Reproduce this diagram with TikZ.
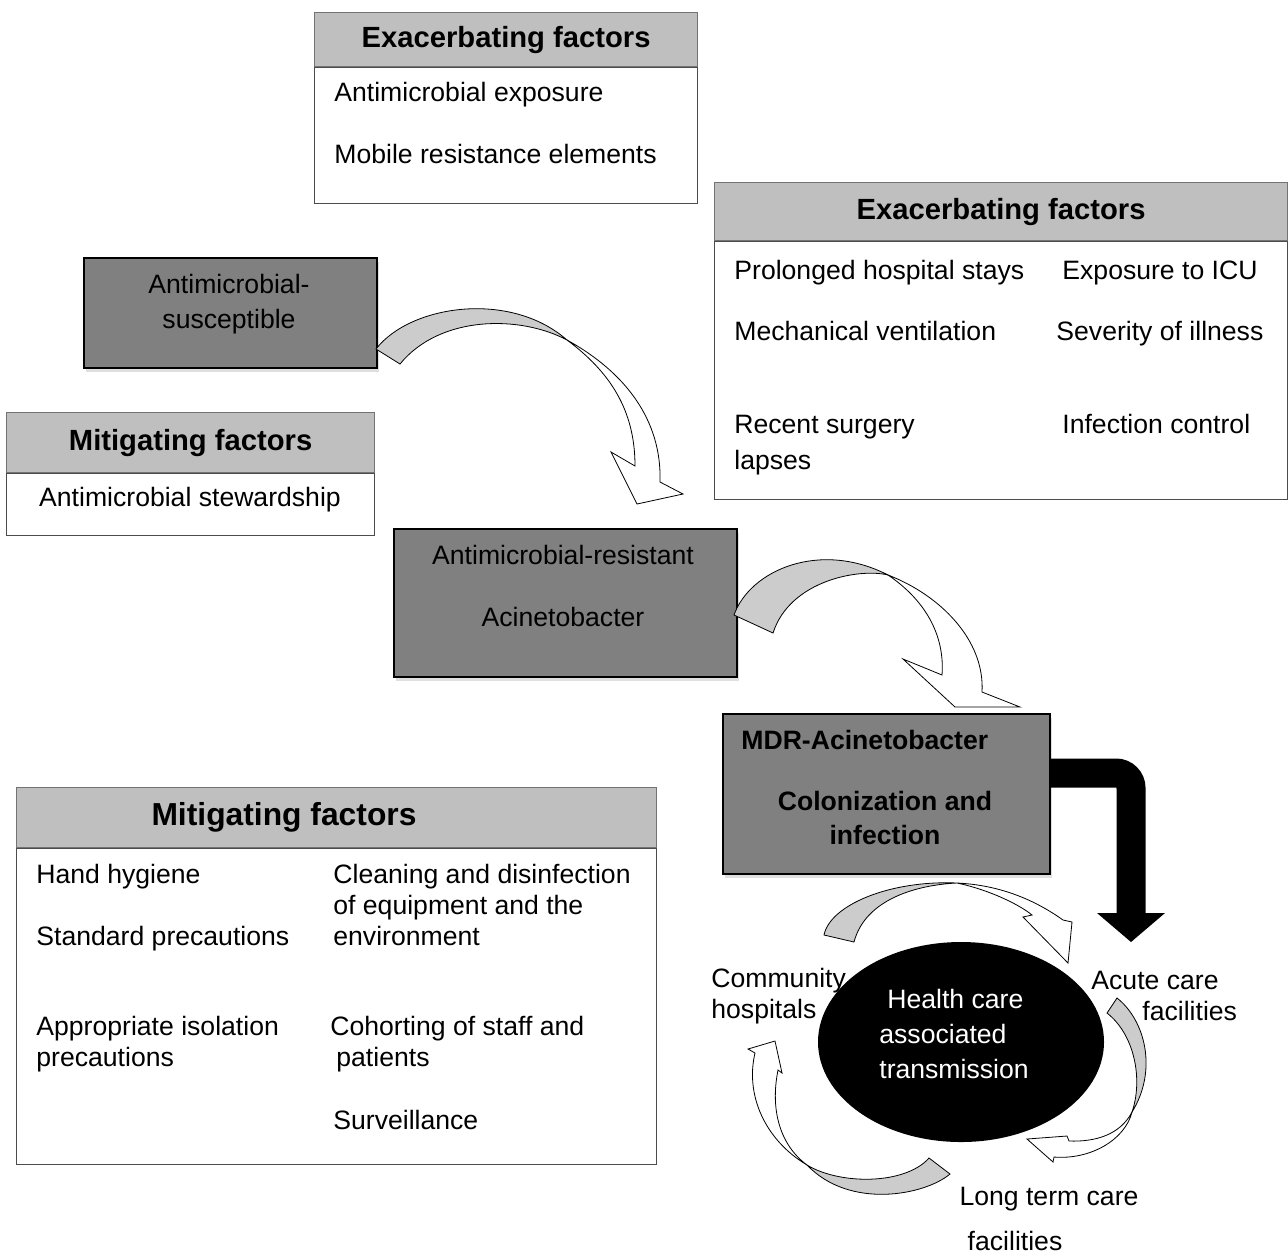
\documentclass[tikz,border=0pt]{standalone}
\usepackage{fontspec}
\setmainfont{Liberation Sans}
\usetikzlibrary{arrows.meta, positioning, shapes.geometric, shadows}

\definecolor{hdrgray}{RGB}{191,191,191}
\definecolor{darkbox}{RGB}{128,128,128}
\definecolor{bandgray}{RGB}{204,204,204}

\begin{document}
\begin{tikzpicture}[
  x=0.5pt, y=-0.5pt,
  every node/.style={font=\fontsize{13.3}{15.5}\selectfont, inner sep=0pt},
  hdrbox/.style={draw=black!55, fill=hdrgray, line width=0.6pt, anchor=north west,
    font=\fontsize{14.6}{17}\selectfont\bfseries},
  bodybox/.style={draw=black!70, fill=white, line width=0.6pt, anchor=north west},
  stagebox/.style={draw=black, fill=darkbox, line width=1pt, anchor=north west,
    drop shadow={shadow xshift=1pt, shadow yshift=-2pt, opacity=0.25}},
  oneline/.style={text height=12pt, text depth=2.3pt},
  item/.style={anchor=west, oneline},
  items/.style={anchor=west, align=left},
  band/.style={draw=black, line width=0.4pt, fill=bandgray},
  bandhead/.style={draw=black, line width=0.4pt, fill=white},
  bigarrow/.style={line width=14.5pt, rounded corners=7.5pt,
    -{Triangle[width=34pt, length=14.5pt, line width=0pt]}}
]
\useasboundingbox (0,0) rectangle (1288,1254);

% Exacerbating factors, top
\node[hdrbox, minimum width=191.5pt, minimum height=27pt] (exaTopH) at (314,12) {Exacerbating factors};
\node[bodybox, minimum width=191.5pt, minimum height=68pt] (exaTopB) at (exaTopH.south west) {};
\node[item] (antExp) at (334,92) {Antimicrobial exposure};
\node[item] (mobRes) at (334,154) {Mobile resistance elements};

% Exacerbating factors, right
\node[hdrbox, minimum width=286.5pt, minimum height=29pt] (exaRgtH) at (714,182) {Exacerbating factors};
\node[bodybox, minimum width=286.5pt, minimum height=129pt] (exaRgtB) at (exaRgtH.south west) {};
\node[item] (hospStay) at (734,270) {Prolonged hospital stays};
\node[item] (icu) at (1062,270) {Exposure to ICU};
\node[item] (mechVent) at (734,331) {Mechanical ventilation};
\node[item] (severity) at (1056,331) {Severity of illness};
\node[item] (surgery) at (734,424) {Recent surgery};
\node[item] (lapses) at (734,460) {lapses};
\node[item] (infCtrl) at (1062,424) {Infection control};

% Mitigating factors, small
\node[hdrbox, minimum width=184pt, minimum height=30pt] (mitSmH) at (6,412) {Mitigating factors};
\node[bodybox, minimum width=184pt, minimum height=31pt] (mitSmB) at (mitSmH.south west) {};
\node[oneline] (stewTxt) at (190,497) {Antimicrobial stewardship};

% Stages
\node[stagebox, minimum width=146.5pt, minimum height=55pt] (susc) at (83,257) {};
\node[oneline] (suscTxt1) at (229,284) {Antimicrobial-};
\node[oneline] (suscTxt2) at (229,319) {susceptible};
\node[stagebox, minimum width=171.5pt, minimum height=74pt] (resist) at (393,528) {};
\node[oneline] (resTxt1) at (563,555) {Antimicrobial-resistant};
\node[oneline] (resTxt2) at (563,617) {Acinetobacter};
\node[stagebox, line width=0.8pt, minimum width=163.5pt, minimum height=80pt] (mdr) at (722,713) {};
\node[item, font=\fontsize{13.3}{15.5}\selectfont\bfseries] (mdrTxt) at (741,740) {MDR-Acinetobacter};
\node[align=center, font=\fontsize{13.3}{17}\selectfont\bfseries] (colon) at (885,818) {Colonization and\\infection};

% Mitigating factors, large
\node[hdrbox, minimum width=320pt, minimum height=30pt] (mitBigH) at (16,787) {};
\node[oneline, font=\fontsize{15.9}{18}\selectfont\bfseries] (mitBigT) at (284,816) {Mitigating factors};
\node[bodybox, minimum width=320pt, minimum height=158pt] (mitBigB) at (mitBigH.south west) {};
\node[item] (handHyg) at (36,874) {Hand hygiene};
\node[item] (stdPrec) at (36,936) {Standard precautions};
\node[items] (isoPrec) at (36,1044) {Appropriate isolation\\precautions};
\node[items] (cleaning) at (333,905) {Cleaning and disinfection\\of equipment and the\\environment};
\node[items] (cohort) at (330,1044) {Cohorting of staff and\\\hspace*{3pt}patients};
\node[item] (surv) at (333,1120) {Surveillance};

% Transmission cycle
\node[ellipse, fill=black, minimum width=143pt, minimum height=100pt] (hub) at (961,1042) {};
\node[align=left, text=white, font=\fontsize{13.3}{17.5}\selectfont] (hubTxt) at (954,1034) {\hspace*{4pt}Health care\\associated\\transmission};
\node[items] (community) at (711,996) {Community\\hospitals};
\node[items] (acute) at (1091,996) {Acute care\\\hspace*{25.5pt}facilities};
\node[oneline] (longTerm1) at (1049,1196) {Long term care};
\node[oneline] (longTerm2) at (1015,1241) {facilities};

% Black bent arrow
\coordinate (bend) at (1131,773);
\coordinate (acuteIn) at (1131,942);
\draw[bigarrow] (mdr.east |- bend) -- (bend) -- (acuteIn);

% Curved block arrows
\draw[band] (376,349) .. controls (410,305) and (510,290) .. (567,340)
  .. controls (520,315) and (440,315) .. (400,364) -- cycle;
\draw[bandhead] (567,340) .. controls (625,372) and (662,420) .. (660,482)
  -- (683,494) -- (637,504) -- (611,452) -- (635,466)
  .. controls (635,410) and (610,372) .. (567,340) -- cycle;

\draw[band] (734,615) .. controls (750,570) and (820,540) .. (888,575)
  .. controls (860,568) and (790,580) .. (773,633) -- cycle;
\draw[bandhead] (888,575) .. controls (940,595) and (985,640) .. (982,692)
  -- (1020,707) -- (955,707) -- (903,659) -- (942,675)
  .. controls (945,635) and (925,600) .. (888,575) -- cycle;

\draw[band] (824,935) .. controls (830,905) and (890,880) .. (957,883)
  .. controls (915,885) and (865,900) .. (854,942) -- cycle;
\draw[bandhead] (957,883) .. controls (990,890) and (1020,905) .. (1032,915)
  -- (1023,917) -- (1068,963) -- (1072,922) -- (1063,920)
  .. controls (1035,900) and (1000,885) .. (957,883) -- cycle;

\draw[band] (1117,998) .. controls (1145,1020) and (1158,1070) .. (1132,1112)
  .. controls (1143,1080) and (1135,1035) .. (1107,1013) -- cycle;
\draw[bandhead] (1132,1112) .. controls (1120,1135) and (1095,1142) .. (1069,1141)
  -- (1067,1136) -- (1027,1139) -- (1053,1162) -- (1054,1157)
  .. controls (1090,1160) and (1125,1140) .. (1132,1112) -- cycle;

\draw[band] (950,1174) .. controls (925,1195) and (850,1210) .. (807,1165)
  .. controls (840,1185) and (905,1185) .. (929,1158) -- cycle;
\draw[bandhead] (807,1165) .. controls (765,1140) and (745,1095) .. (755,1053)
  -- (748,1049) -- (775,1041) -- (782,1073) -- (778,1070)
  .. controls (770,1110) and (780,1145) .. (807,1165) -- cycle;

\end{tikzpicture}
\end{document}
